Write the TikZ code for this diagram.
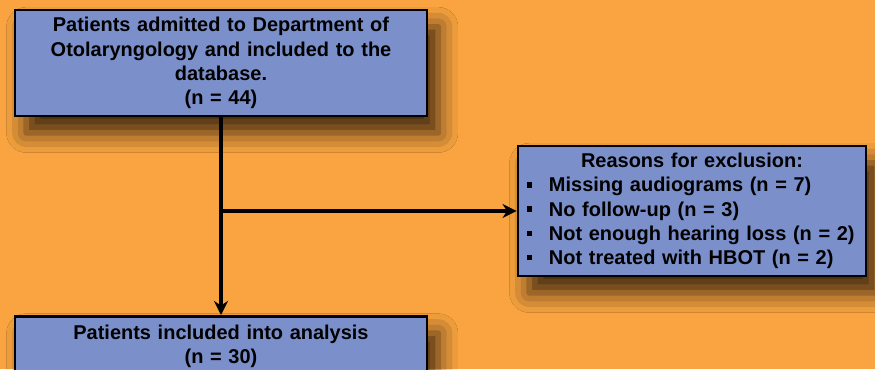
\documentclass[tikz,border=0pt]{standalone}
\usepackage{fontspec}
\setmainfont{Liberation Sans}
\usetikzlibrary{arrows.meta,shadows.blur}

\definecolor{bgorange}{HTML}{F9A440}
\definecolor{boxblue}{HTML}{7B8FCA}

\tikzset{
    flowbox/.style={draw=black, line width=2pt, fill=boxblue,
        font=\bfseries\fontsize{14.2}{17.2}\selectfont,
        blur shadow={shadow xshift=8pt, shadow yshift=-12pt, shadow blur radius=14pt, shadow opacity=75}},
    flowarrow/.style={line width=2.8pt, -{Stealth[length=10pt,width=10pt]}}
}

% one bullet line in the exclusion box
\newcommand{\exclitem}[1]{\hspace*{0.07cm}\makebox[0.555cm][l]{\rule[3pt]{4pt}{4pt}}#1}

\begin{document}
\begin{tikzpicture}[x=0.025cm, y=-0.025cm]
                    % Parameters
                    \def\boxtext{9.9cm} % text width of the left boxes
                    \def\excltext{8.4cm} % text width of the exclusion box

                    % Background
                    \useasboundingbox (0,0) rectangle (875,369);
                    \fill[bgorange] (0,0) rectangle (875,369);
                    \clip (0,0) rectangle (875,369);

                    % Boxes
                    \node[flowbox, text width=\boxtext, inner xsep=0.2cm, minimum height=2.65cm, align=center] (admitted) at (221,63)
                        {\rule{0pt}{9pt}Patients admitted to Department of\\Otolaryngology and included to the\\database.\\(n = 44)};
                    \node[flowbox, text width=\excltext, inner xsep=0.15cm, minimum height=3.25cm, align=left] (excluded) at (692,211)
                        {{\centering Reasons for exclusion:\par}
                         \exclitem{Missing audiograms (n = 7)}\\
                         \exclitem{No follow-up (n = 3)}\\
                         \exclitem{Not enough hearing loss (n = 2)}\\
                         \exclitem{Not treated with HBOT (n = 2)}};
                    \node[flowbox, text width=\boxtext, inner xsep=0.2cm, inner ysep=6pt, align=center, anchor=north] (included) at (221,315)
                        {Patients included into analysis\\(n = 30)};

                    % Arrows
                    \coordinate (branch) at (admitted.south |- excluded.west);
                    \draw[flowarrow] (admitted.south) -- (included.north);
                    \draw[flowarrow] (branch) -- (excluded.west);
                \end{tikzpicture}
\end{document}
